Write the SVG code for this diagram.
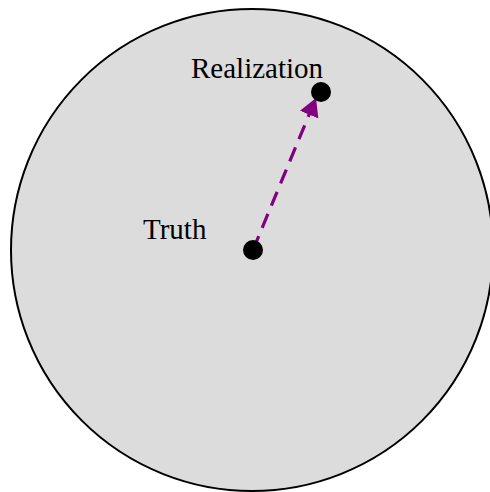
<svg xmlns="http://www.w3.org/2000/svg" width="490" height="492" viewBox="0 0 490 492">
<defs>
<style>
.lbl{font-family:"Liberation Serif","Times New Roman",serif;font-size:29px;fill:#000}
.dot{fill:#000}
.conn{stroke:#800080;stroke-width:3.2;stroke-dasharray:15,9;fill:none}
</style>
<marker id="ah" viewBox="0 0 18 20" refX="18" refY="10" markerWidth="18" markerHeight="20" markerUnits="userSpaceOnUse" orient="auto">
<path d="M0,0 L18,10 L0,20 z" fill="#800080"/>
</marker>
</defs>
<rect width="490" height="492" fill="#fff"/>
<g id="space">
<circle cx="252" cy="250" r="241" fill="#dcdcdc" stroke="#000" stroke-width="2"/>
</g>
<g id="connectors">
<line class="conn" x1="253" y1="250" x2="316" y2="98" marker-end="url(#ah)"/>
</g>
<g id="truth">
<circle class="dot" cx="253" cy="250" r="10"/>
<text class="lbl" x="143" y="239">Truth</text>
</g>
<g id="realization">
<circle class="dot" cx="321" cy="92" r="10"/>
<text class="lbl" x="191" y="78">Realization</text>
</g>
</svg>
